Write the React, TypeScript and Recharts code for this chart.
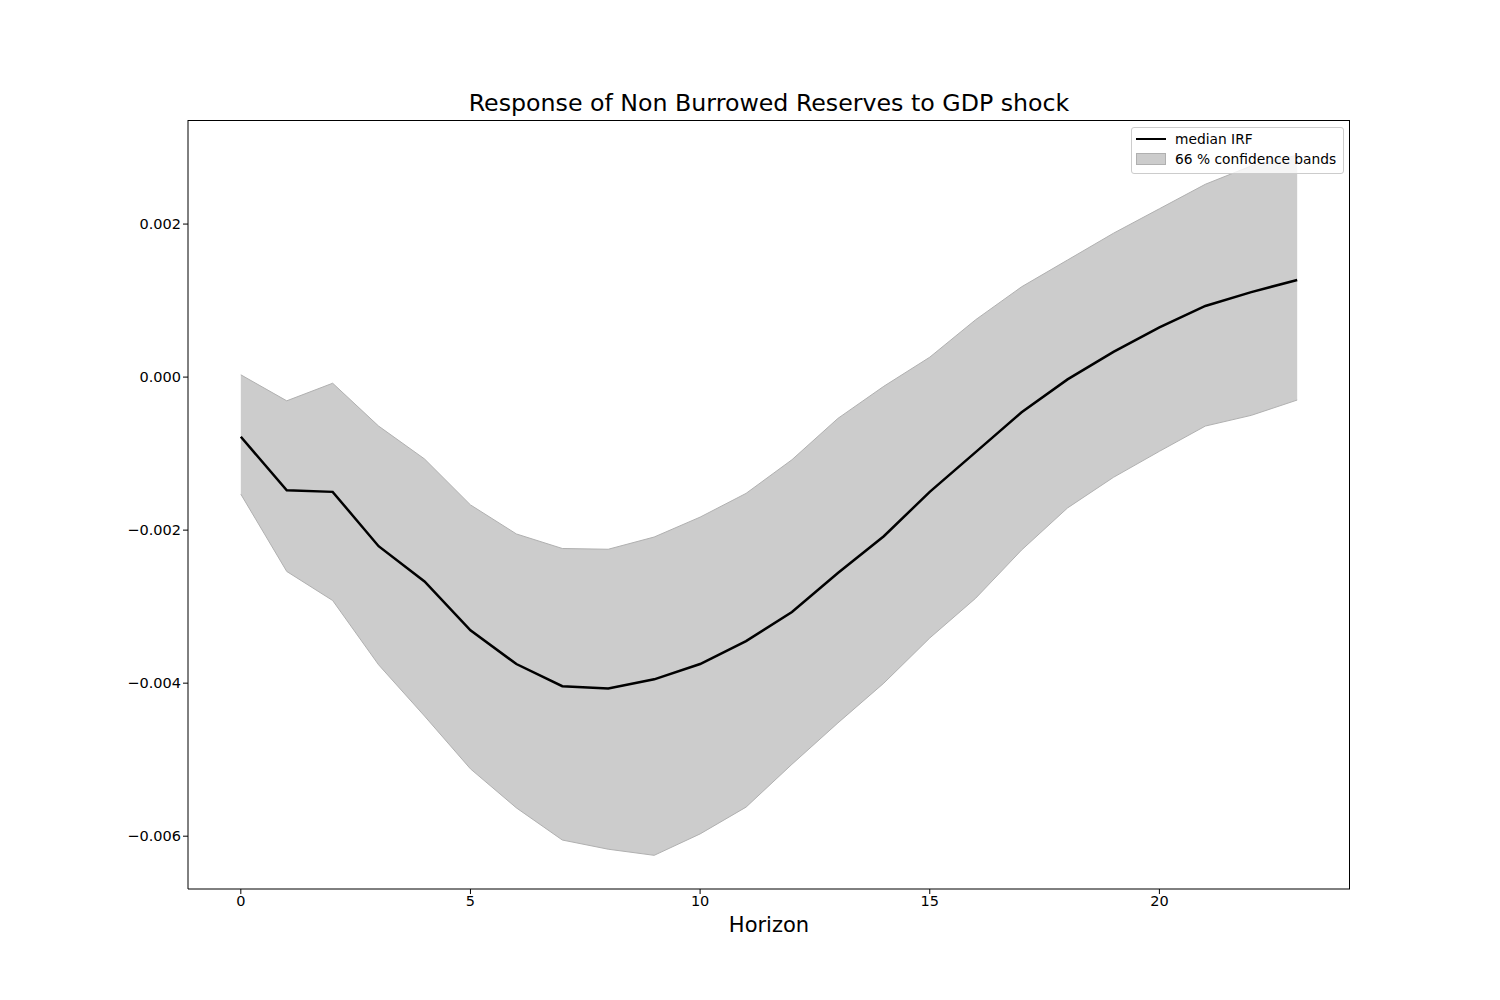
import { ComposedChart, Area, Line, XAxis, YAxis } from "recharts";

const horizon = [0,1,2,3,4,5,6,7,8,9,10,11,12,13,14,15,16,17,18,19,20,21,22,23];
const median = [-0.00078,-0.00148,-0.0015,-0.00221,-0.00267,-0.00331,-0.00375,-0.00404,-0.00407,-0.00395,-0.00375,-0.00345,-0.00307,-0.00256,-0.00208,-0.0015,-0.00098,-0.00046,-0.00003,0.00033,0.00065,0.00093,0.00111,0.00127];
const upper = [0.00003,-0.00031,-0.00008,-0.00064,-0.00107,-0.00167,-0.00205,-0.00224,-0.00225,-0.00209,-0.00183,-0.00152,-0.00108,-0.00054,-0.00012,0.00026,0.00075,0.00118,0.00153,0.00188,0.0022,0.00252,0.00276,0.0029];
const lower = [-0.00153,-0.00254,-0.00292,-0.00376,-0.00443,-0.00512,-0.00563,-0.00605,-0.00617,-0.00625,-0.00597,-0.00562,-0.00506,-0.00452,-0.004,-0.00341,-0.00289,-0.00226,-0.00171,-0.00131,-0.00097,-0.00064,-0.0005,-0.0003];
const xTicks = [0, 5, 10, 15, 20];
const yTicks = [-0.006, -0.004, -0.002, 0, 0.002];

const data = horizon.map((h, i) => ({ h, median: median[i], band: [lower[i], upper[i]] }));

const fmt = (v: number) => (v < 0 ? "\u2212" : "") + Math.abs(v).toFixed(3);
const tickStyle = { fill: "#000", fontSize: 14.5 };

export default function App() {
  return (
    <div style={{ position: "absolute", left: 0, top: 0, width: 1500, height: 1000, background: "#fff", fontFamily: "DejaVu Sans" }}>
      <div style={{ position: "absolute", top: 89, width: 1538, textAlign: "center", fontSize: 23.7 }}>
        Response of Non Burrowed Reserves to GDP shock
      </div>
      <ComposedChart width={1500} height={1000} data={data} margin={{ top: 120, right: 150, bottom: 51, left: 0 }}>
        <XAxis dataKey="h" type="number" domain={[-1.15, 24.15]} ticks={xTicks} tick={tickStyle}
          stroke="#000" tickSize={5} height={60} allowDataOverflow
          label={{ value: "Horizon", position: "insideTop", offset: 28, fontSize: 21, fill: "#000" }} />
        <YAxis type="number" domain={[-0.00669, 0.00336]} ticks={yTicks} tickFormatter={fmt} tick={tickStyle}
          stroke="#000" tickSize={5} width={188} allowDataOverflow />
        <Area dataKey="band" type="linear" fill="#cccccc" fillOpacity={1} stroke="#b0b0b0" strokeWidth={1} isAnimationActive={false} />
        <Line dataKey="median" type="linear" stroke="#000" strokeWidth={2.5} dot={false} isAnimationActive={false} />
      </ComposedChart>
      <div style={{ position: "absolute", left: 188, top: 120, width: 1162, height: 769, boxSizing: "border-box", borderTop: "1px solid #000", borderRight: "1px solid #000", pointerEvents: "none" }} />
      <div style={{ position: "absolute", left: 1131, top: 127, width: 211, height: 45, border: "1px solid #ccc", borderRadius: 3, background: "rgba(255,255,255,0.8)", fontSize: 13.8 }}>
        <div style={{ position: "absolute", left: 4, top: 3, display: "flex", alignItems: "center" }}>
          <span style={{ display: "inline-block", width: 30, height: 2.5, background: "#000", marginRight: 9 }} />median IRF
        </div>
        <div style={{ position: "absolute", left: 4, top: 23, display: "flex", alignItems: "center" }}>
          <span style={{ display: "inline-block", width: 28, height: 10, background: "#ccc", border: "1px solid #b0b0b0", marginRight: 9 }} />66 % confidence bands
        </div>
      </div>
    </div>
  );
}
